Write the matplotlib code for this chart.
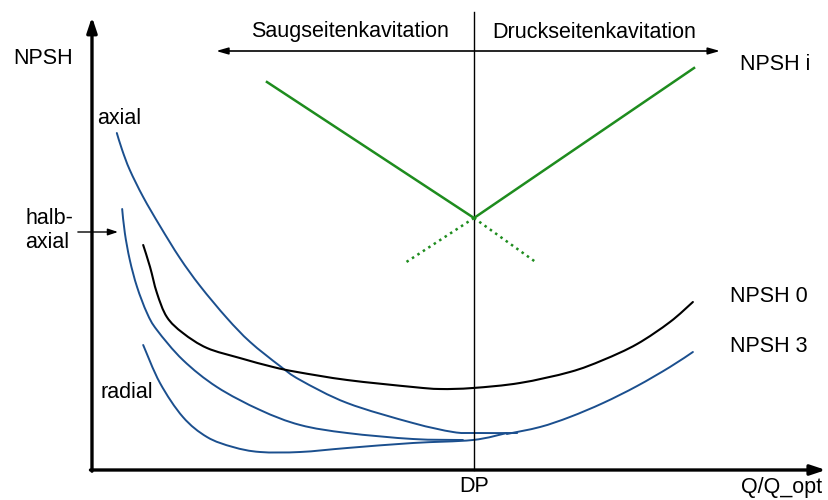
import matplotlib
matplotlib.use("Agg")
import numpy as np
import matplotlib.pyplot as plt
from matplotlib.path import Path
from matplotlib.patches import PathPatch

plt.rcParams['font.family'] = ['Liberation Sans', 'DejaVu Sans']

BLUE = '#1b4f8e'
GREEN = '#1e8c1e'
FS = 15.5

# Q/Q_opt (DP = 1) and NPSH in arbitrary units
axial_q = [0.065, 0.079, 0.099, 0.134, 0.178, 0.230, 0.283, 0.353, 0.414, 0.492,
           0.545, 0.668, 0.840, 0.945, 1.000, 1.113]
axial_h = [3.37, 3.20, 3.00, 2.73, 2.44, 2.12, 1.84, 1.52, 1.28, 1.04,
           0.90, 0.67, 0.47, 0.38, 0.37, 0.37]

halbaxial_q = [0.079, 0.086, 0.099, 0.118, 0.144, 0.170, 0.238, 0.327, 0.440, 0.545,
               0.668, 0.840, 0.971]
halbaxial_h = [2.61, 2.37, 2.10, 1.83, 1.57, 1.40, 1.10, 0.83, 0.60, 0.45,
               0.37, 0.31, 0.30]

radial_q = [0.134, 0.178, 0.238, 0.301, 0.369, 0.440, 0.545, 0.668, 0.840, 0.997, 1.086]
radial_h = [1.25, 0.87, 0.53, 0.33, 0.23, 0.18, 0.18, 0.22, 0.27, 0.30, 0.37]

npsh3_q = [1.086, 1.173, 1.251, 1.338, 1.427, 1.513, 1.573]
npsh3_h = [0.36, 0.43, 0.53, 0.67, 0.84, 1.03, 1.18]

npsh0_q = [0.134, 0.152, 0.170, 0.196, 0.238, 0.301, 0.387, 0.474, 0.537, 0.668,
           0.840, 0.911, 0.997, 1.120, 1.251, 1.338, 1.427, 1.513, 1.573]
npsh0_h = [2.25, 2.03, 1.77, 1.53, 1.37, 1.22, 1.12, 1.03, 0.98, 0.90,
           0.83, 0.81, 0.82, 0.87, 0.98, 1.10, 1.26, 1.48, 1.68]

# NPSH i: solid branches and dotted extensions beyond DP
npshi_left_q = [0.458, 1.000]
npshi_left_h = [3.88, 2.52]
npshi_right_q = [1.000, 1.576]
npshi_right_h = [2.52, 4.02]
npshi_ext_left_q = [1.000, 0.819]
npshi_ext_left_h = [2.52, 2.07]
npshi_ext_right_q = [1.000, 1.165]
npshi_ext_right_h = [2.52, 2.07]


def smooth_curve(ax, xs, ys, **kw):
    # bezier segments through every point (catmull-rom tangents)
    pts = np.column_stack([xs, ys])
    n = len(pts)
    verts = [pts[0]]
    codes = [Path.MOVETO]
    for i in range(n - 1):
        p0 = pts[i - 1] if i > 0 else pts[i]
        p1 = pts[i]
        p2 = pts[i + 1]
        p3 = pts[i + 2] if i + 2 < n else pts[i + 1]
        verts += [p1 + (p2 - p0) / 6, p2 - (p3 - p1) / 6, p2]
        codes += [Path.CURVE4] * 3
    ax.add_patch(PathPatch(Path(verts, codes), fill=False, capstyle='round', **kw))


fig = plt.figure(figsize=(8.29, 5.00), dpi=100)
ax = fig.add_axes([0, 0, 1, 1])
ax.set_xlim(-0.2408, 1.9293)
ax.set_ylim(-0.30, 4.70)
ax.axis('off')

# axes with arrow heads
arrow_kw = dict(arrowstyle='-|>,head_length=0.9,head_width=0.3', color='black', lw=2.4,
                shrinkA=0, shrinkB=0)
ax.annotate('', xy=(0, 4.53), xytext=(0, -0.012), arrowprops=arrow_kw)
ax.annotate('', xy=(1.921, 0), xytext=(-0.004, 0), arrowprops=arrow_kw)

# design point
ax.plot([1.0, 1.0], [0, 4.58], color='black', lw=1.0)

# cavitation zones
ax.annotate('', xy=(0.325, 4.19), xytext=(1.644, 4.19),
            arrowprops=dict(arrowstyle='<|-|>,head_length=0.7,head_width=0.2',
                            color='black', lw=1.2, shrinkA=0, shrinkB=0))
ax.text(0.675, 4.38, 'Saugseitenkavitation', fontsize=FS, ha='center', va='center')
ax.text(1.314, 4.38, 'Druckseitenkavitation', fontsize=FS, ha='center', va='center')

# curves
smooth_curve(ax, axial_q, axial_h, edgecolor=BLUE, lw=1.4)
smooth_curve(ax, halbaxial_q, halbaxial_h, edgecolor=BLUE, lw=1.4)
smooth_curve(ax, radial_q, radial_h, edgecolor=BLUE, lw=1.4)
smooth_curve(ax, npsh3_q, npsh3_h, edgecolor=BLUE, lw=1.4)
smooth_curve(ax, npsh0_q, npsh0_h, edgecolor='black', lw=1.5)
ax.plot(npshi_left_q, npshi_left_h, color=GREEN, lw=1.8)
ax.plot(npshi_right_q, npshi_right_h, color=GREEN, lw=1.8)
ax.plot(npshi_ext_left_q, npshi_ext_left_h, color=GREEN, lw=1.8, ls=(0, (1, 1.6)))
ax.plot(npshi_ext_right_q, npshi_ext_right_h, color=GREEN, lw=1.8, ls=(0, (1, 1.6)))

# labels
ax.text(-0.207, 4.12, 'NPSH', fontsize=FS, ha='left', va='center')
ax.text(0.013, 3.52, 'axial', fontsize=FS, ha='left', va='center')
ax.text(-0.175, 2.52, 'halb-', fontsize=FS, ha='left', va='center')
ax.text(-0.175, 2.28, 'axial', fontsize=FS, ha='left', va='center')
ax.annotate('', xy=(0.068, 2.38), xytext=(-0.037, 2.38),
            arrowprops=dict(arrowstyle='-|>,head_length=0.6,head_width=0.2',
                            color='black', lw=1.0, shrinkA=0, shrinkB=0))
ax.text(0.021, 0.78, 'radial', fontsize=FS, ha='left', va='center')
ax.text(1.696, 4.05, 'NPSH i', fontsize=FS, ha='left', va='center')
ax.text(1.670, 1.73, 'NPSH 0', fontsize=FS, ha='left', va='center')
ax.text(1.670, 1.23, 'NPSH 3', fontsize=FS, ha='left', va='center')
ax.text(1.0, -0.17, 'DP', fontsize=FS, ha='center', va='center')
ax.text(1.911, -0.17, 'Q/Q_opt', fontsize=FS, ha='right', va='center')

fig.savefig('out.png', dpi=100)
